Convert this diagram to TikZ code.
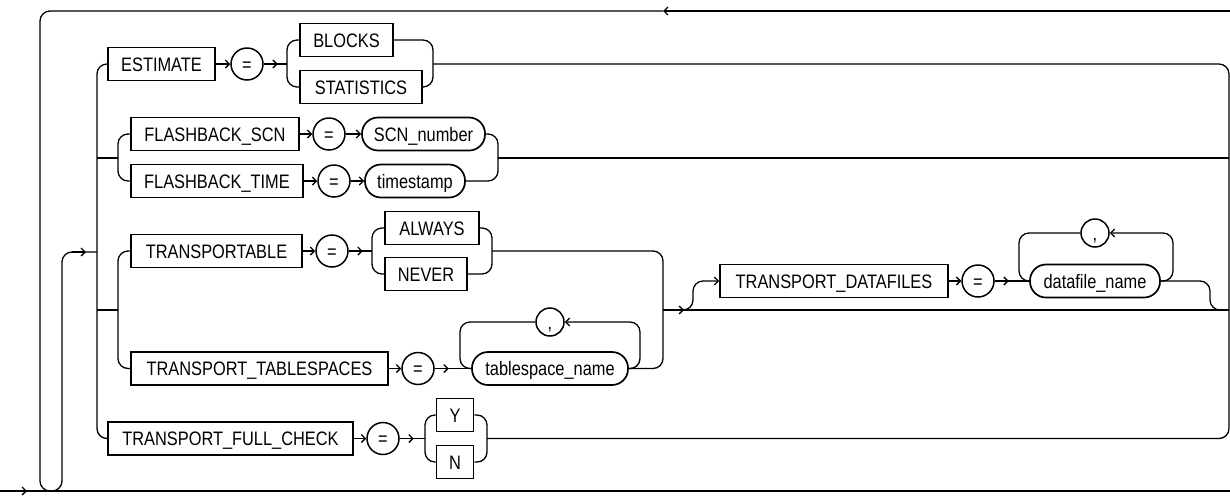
\documentclass[tikz,border=0pt]{standalone}
\usepackage{fontspec}
\setmainfont{Liberation Sans}[FakeStretch=0.84]
\usetikzlibrary{arrows.meta}
\newcommand\rrfont{\fontsize{19.5}{21}\selectfont}
\begin{document}
\begin{tikzpicture}[x=1pt,y=-1pt,
  line width=1.3pt,
  kw/.style={draw, line width=1.7pt, rectangle, minimum height=33pt, inner sep=0pt,
    text height=14pt, text depth=0pt, font=\rrfont},
  var/.style={kw, rounded corners=16pt},
  op/.style={draw, line width=1.5pt, circle, minimum size=32pt, inner sep=0pt,
    text height=14pt, text depth=0pt, font=\rrfont},
  sepc/.style={draw, line width=1.5pt, circle, minimum size=28pt, inner sep=0pt,
    text height=14pt, text depth=0pt, font=\rrfont},
  arr/.style={-{Straight Barb[length=4pt,width=8pt]}},
  rc/.style={rounded corners=10pt},
]
\useasboundingbox (0,0) rectangle (1230,496);

% ---- nodes ----
\node[kw, minimum width=107pt] (est) at (161.5,64) {ESTIMATE};
\node[op] (eq1) at (247,64) {=};
\node[kw, minimum width=93pt] (blocks) at (346.5,40) {BLOCKS};
\node[kw, minimum width=122pt] (stat) at (361,87) {STATISTICS};

\node[kw, minimum width=168pt] (fscn) at (215,134) {FLASHBACK\_SCN};
\node[op] (eqs) at (329,134) {=};
\node[var, minimum width=123pt] (scnn) at (423.5,134) {SCN\_number};
\node[kw, minimum width=172pt] (ftime) at (217,181) {FLASHBACK\_TIME};
\node[op] (eqt) at (334,181) {=};
\node[var, minimum width=100pt] (ts) at (415,181) {timestamp};

\node[kw, minimum width=171pt] (tbl) at (216.5,251) {TRANSPORTABLE};
\node[op] (eqta) at (332,251) {=};
\node[kw, minimum width=94pt] (always) at (432,228) {ALWAYS};
\node[kw, minimum width=82pt] (never) at (426,274) {NEVER};

\node[kw, minimum width=257pt] (tts) at (259.5,368.5) {TRANSPORT\_TABLESPACES};
\node[op] (eqtt) at (418,368.5) {=};
\node[var, minimum width=156pt] (tsn) at (550,368.5) {tablespace\_name};
\node[sepc] (cm1) at (550,322) {,};

\node[kw, minimum width=228pt] (tdf) at (834,281) {TRANSPORT\_DATAFILES};
\node[op] (eqd) at (978,281) {=};
\node[var, minimum width=130pt] (dfn) at (1095,281) {datafile\_name};
\node[sepc] (cm2) at (1095,233) {,};

\node[kw, minimum width=245pt] (ffc) at (230.5,438.5) {TRANSPORT\_FULL\_CHECK};
\node[op] (eqf) at (383,438.5) {=};
\node[kw, minimum width=37pt] (yy) at (455,415) {Y};
\node[kw, minimum width=37pt] (nn) at (455,462) {N};

% ---- coordinates ----
\coordinate (start) at (0,491);
\coordinate (endr) at (1230,491);
\coordinate (topr) at (1230,11);

% ---- main line and loop ----
\draw (start) -- (endr);
\draw[arr] (start) -- (27,491);
\draw[arr] (topr) -- (663,11);
\draw[rc] (663,11) -- (40,11) -- (40,491) -- (62,491) -- (62,252) -- (97,252);
\draw[arr] (72,252) -- (86,252);

% main choice
\draw[rc] (est.west) -- (97,64) -- (97,438.5) -- (ffc.west);
\draw (97,158) -- (118,158);
\draw (97,310) -- (118,310);

% ESTIMATE row
\draw[arr] (est.east) -- (eq1.west);
\draw (eq1.east) -- (287,64);
\draw[arr] (eq1.east) -- ++(14,0);
\draw[rc] (blocks.west) -- (287,40) -- (287,87) -- (stat.west);
\draw[rc] (blocks.east) -- (433,40) -- (433,87) -- (stat.east);
\draw[rc] (433,64) -- (1229,64) -- (1229,438.5) -- (487,438.5);

% FLASHBACK rows
\draw[rc] (fscn.west) -- (118,134) -- (118,181) -- (ftime.west);
\draw[arr] (fscn.east) -- (eqs.west);
\draw[arr] (eqs.east) -- (scnn.west);
\draw[arr] (ftime.east) -- (eqt.west);
\draw[arr] (eqt.east) -- (ts.west);
\draw[rc] (scnn.east) -- (498,134) -- (498,181) -- (ts.east);
\draw (498,158) -- (1229,158);

% TRANSPORTABLE / TRANSPORT_TABLESPACES
\draw[rc] (tbl.west) -- (118,251) -- (118,368.5) -- (tts.west);
\draw[arr] (tbl.east) -- (eqta.west);
\draw (eqta.east) -- (372,251);
\draw[arr] (eqta.east) -- ++(14,0);
\draw[rc] (always.west) -- (372,228) -- (372,274) -- (never.west);
\draw[rc] (always.east) -- (492,228) -- (492,274) -- (never.east);
\draw[rc] (492,251) -- (663,251) -- (663,368.5) -- (tsn.east);

\draw[arr] (tts.east) -- (eqtt.west);
\draw (eqtt.east) -- (tsn.west);
\draw[arr] (eqtt.east) -- ++(14,0);
\draw[rc] (cm1.west) -- (460,322) -- (460,368.5) -- (tsn.west);
\draw[arr,rc] (tsn.east) -- (640,368.5) -- (640,322) -- (cm1.east);

% join and TRANSPORT_DATAFILES
\draw (663,310) -- (1229,310);
\draw[arr] (663,310) -- (684,310);
\draw[arr,rc] (683,310) -- (693,310) -- (693,281) -- (tdf.west);
\draw[arr] (tdf.east) -- (eqd.west);
\draw (eqd.east) -- (dfn.west);
\draw[arr] (eqd.east) -- ++(14,0);
\draw[rc] (cm2.west) -- (1019,233) -- (1019,281) -- (dfn.west);
\draw[arr,rc] (dfn.east) -- (1173,281) -- (1173,233) -- (cm2.east);
\draw[rc] (dfn.east) -- (1210,281) -- (1210,310) -- (1229,310);

% TRANSPORT_FULL_CHECK
\draw[arr] (ffc.east) -- (eqf.west);
\draw (eqf.east) -- (425,438.5);
\draw[arr] (eqf.east) -- ++(14,0);
\draw[rc] (yy.west) -- (425,415) -- (425,462) -- (nn.west);
\draw[rc] (yy.east) -- (487,415) -- (487,462) -- (nn.east);
\end{tikzpicture}
\end{document}
